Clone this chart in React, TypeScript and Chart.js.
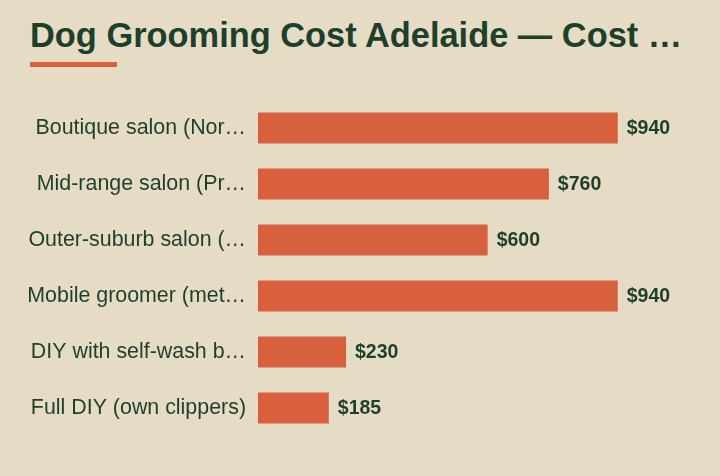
import { useEffect, useRef } from 'react';
import Chart from 'chart.js/auto';

const TITLE = 'Dog Grooming Cost Adelaide — Cost …';
const categories = [
    'Boutique salon (Nor…',
    'Mid-range salon (Pr…',
    'Outer-suburb salon (…',
    'Mobile groomer (met…',
    'DIY with self-wash b…',
    'Full DIY (own clippers)',
];
const costs = [940, 760, 600, 940, 230, 185];

const BG = '#e6dcc5';
const BAR = '#d9603c';
const INK = '#1d3f2c';

const valueLabels = {
    id: 'valueLabels',
    afterDatasetsDraw(chart: any) {
        const ctx = chart.ctx;
        const meta = chart.getDatasetMeta(0);
        ctx.save();
        ctx.font = 'bold 19.5px "Liberation Sans", Arial, sans-serif';
        ctx.fillStyle = INK;
        ctx.textAlign = 'left';
        ctx.textBaseline = 'middle';
        meta.data.forEach((bar: any, i: number) => {
            ctx.fillText('$' + costs[i], bar.x + 9, bar.y + 1);
        });
        ctx.restore();
    },
};

export default function App() {
    const canvasRef = useRef<HTMLCanvasElement | null>(null);

    useEffect(() => {
        if (!canvasRef.current) {
            return;
        }

        const chart = new Chart(canvasRef.current, {
            type: 'bar',
            data: {
                labels: categories,
                datasets: [
                    { label: 'Cost', data: costs, backgroundColor: BAR, borderWidth: 0, barPercentage: 0.55, categoryPercentage: 1 },
                ],
            },
            options: {
                indexAxis: 'y',
                animation: false,
                responsive: false,
                maintainAspectRatio: false,
                layout: { padding: { top: 100, bottom: 40, left: 0, right: 41 } },
                plugins: {
                    legend: { display: false },
                    tooltip: { enabled: false },
                },
                scales: {
                    x: { display: false, min: 0, max: 1100 },
                    y: {
                        grid: { display: false },
                        border: { display: false },
                        ticks: {
                            color: INK,
                            padding: 4,
                            font: { family: '"Liberation Sans", Arial, sans-serif', size: 21.4 },
                        },
                        afterFit(scale: any) { scale.width = 258; },
                    },
                },
            },
            plugins: [valueLabels],
        });
        return () => chart.destroy();
    }, []);

    return (
        <div style={{ position: 'fixed', left: 0, top: 0, width: 720, height: 476, background: BG, overflow: 'hidden' }}>
            <div style={{ position: 'absolute', left: 30, top: 18, lineHeight: '34px', fontSize: 34.4, fontWeight: 'bold', color: INK, fontFamily: '"Liberation Sans", Arial, sans-serif', whiteSpace: 'nowrap' }}>
                {TITLE}
            </div>
            <div style={{ position: 'absolute', left: 30, top: 62, width: 87, height: 5, background: BAR }} />
            <canvas ref={canvasRef} width={720} height={476} style={{ position: 'absolute', left: 0, top: 0 }} />
        </div>
    );
}
